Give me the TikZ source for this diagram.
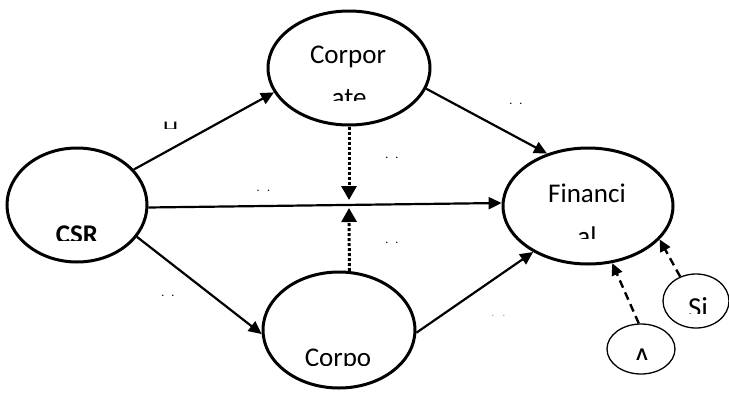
\documentclass[tikz,border=0pt]{standalone}
\usepackage{fontspec}
\setmainfont{Carlito}
\usetikzlibrary{shapes.geometric,arrows.meta}
\tikzset{
  bigell/.style={ellipse,draw,line width=3pt,inner sep=0pt},
  smallell/.style={ellipse,draw,line width=1.3pt,inner sep=0pt},
  conn/.style={line width=2.2pt,-{Triangle[length=13pt,width=12pt]}},
  dotconn/.style={line width=3pt,dash pattern=on 3pt off 2pt,-{Triangle[length=14pt,width=15pt]}},
  dashconn/.style={line width=2.4pt,dash pattern=on 8pt off 5pt,-{Triangle[length=12pt,width=11pt]}},
  lbl/.style={anchor=base,inner sep=0pt,font=\fontsize{27}{30}\selectfont},
  slbl/.style={anchor=base,inner sep=0pt,font=\fontsize{29}{32}\selectfont},
  dots/.style={anchor=base,inner sep=0pt,font=\fontsize{12}{13}\selectfont}
}
\begin{document}
\begin{tikzpicture}[x=1pt,y=-1pt]
\useasboundingbox (0,0) rectangle (729,394);
% ellipses
\node[bigell,minimum width=162pt,minimum height=114pt] (corp) at (349,68) {};
\node[bigell,minimum width=140pt,minimum height=114pt] (csr) at (77,205) {};
\node[bigell,minimum width=170pt,minimum height=116pt] (fin) at (588,206) {};
\node[bigell,minimum width=152pt,minimum height=116pt] (corpo) at (339,330) {};
\node[smallell,minimum width=66pt,minimum height=54pt] (si) at (696,301) {};
\node[smallell,minimum width=68pt,minimum height=50pt] (aa) at (641,349) {};
% clipped texts
\node[lbl] (t1) at (348,63) {Corpor};
\begin{scope}\clip (300,80) rectangle (400,100);
\node[lbl] (t2) at (349,106) {ate};\end{scope}
\node[lbl] (t3) at (587,202) {Financi};
\begin{scope}\clip (540,220) rectangle (640,238.5);
\node[lbl] (t4) at (587,245) {al};\end{scope}
\begin{scope}\clip (40,215) rectangle (115,240);
\node[lbl,font=\fontsize{27}{30}\selectfont\bfseries] (t5) at (77,243) {CSR};\end{scope}
\begin{scope}\clip (290,340) rectangle (390,365);
\node[lbl] (t6) at (338,366) {Corpo};\end{scope}
\begin{scope}\clip (680,290) rectangle (720,313);
\node[slbl] (t7) at (698,317) {Si};\end{scope}
\begin{scope}\clip (625,340) rectangle (660,359.5);
\node[slbl] (t8) at (642,367) {A};\end{scope}
\begin{scope}\clip (155,115) rectangle (190,128);
\node[lbl,font=\fontsize{24}{28}\selectfont] (t9) at (170.5,137.5) {H};\end{scope}
% small dot labels
\node[dots] (d1) at (516,104) {.\hspace{7pt}.};
\node[dots] (d2) at (392,158) {.\hspace{7pt}.};
\node[dots] (d3) at (392,243) {.\hspace{7pt}.};
\node[dots] (d4) at (263.5,191) {.\hspace{7.5pt}.};
\node[dots] (d5) at (168,296) {.\hspace{7pt}.};
\node[dots,text=black!35] (d6) at (498.5,316) {.\hspace{8pt}.};
% connectors
\coordinate (m1) at (349,200);
\coordinate (m2) at (349,208);
\draw[conn] (csr.32) -- (corp.198);
\draw[conn] (corp.-15) -- (fin.128);
\draw[conn] (csr.-2) -- (fin.178);
\draw[conn] (csr.-28) -- (corpo.183);
\draw[conn] (corpo.-2) -- (fin.220);
\draw[dotconn] (corp.south) -- (m1);
\draw[dotconn] (corpo.80) -- (m2);
\draw[dashconn] (aa.95) -- (fin.-67);
\draw[dashconn] (si.123) -- (fin.-25);
\end{tikzpicture}
\end{document}
